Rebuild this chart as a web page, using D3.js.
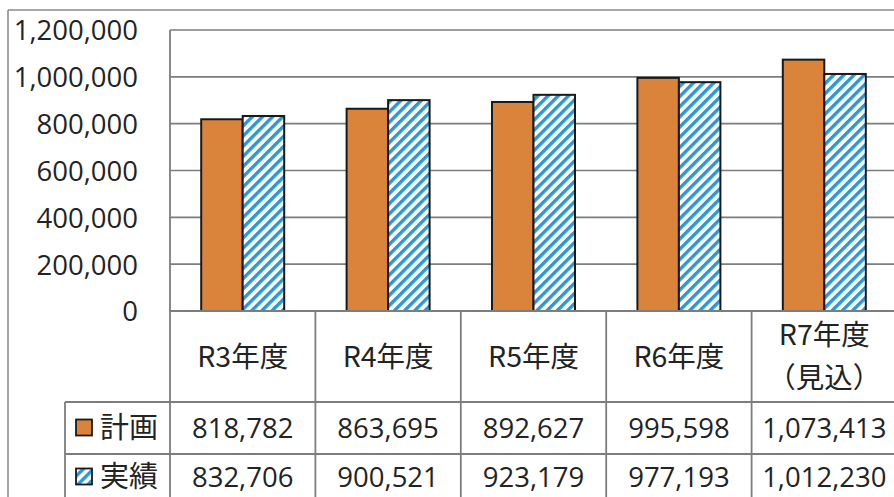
<!DOCTYPE html>
<html><head><meta charset="utf-8">
<script src="https://cdn.jsdelivr.net/npm/d3@7"></script>
<style>
html,body{margin:0;padding:0;background:#fff;}
svg{display:block;}
</style></head>
<body>
<script>
// ---- data ----
const categories = ["R3年度","R4年度","R5年度","R6年度","R7年度\n（見込）"];
const seriesNames = ["計画","実績"];
const planValues = [818782, 863695, 892627, 995598, 1073413];
const actualValues = [832706, 900521, 923179, 977193, 1012230];
const yTicks = [0, 200000, 400000, 600000, 800000, 1000000, 1200000];

const W = 894, H = 497;
const svg = d3.select("body").append("svg").attr("width", W).attr("height", H);

const defs = svg.append("defs");
const pat = defs.append("pattern").attr("id","hatch").attr("patternUnits","userSpaceOnUse")
  .attr("width",7.2).attr("height",7.2).attr("patternTransform","rotate(45)");
pat.append("rect").attr("width",7.2).attr("height",7.2).attr("fill","#fff");
pat.append("rect").attr("x",0).attr("width",3.4).attr("height",7.2).attr("fill","#2b98d4");

const colors = {"計画":"#d9843a","実績":"url(#hatch)"};
const gridColor = "#7d7d7d";
const textColor = "#232323";
const numFont = "'Open Sans', 'Noto Sans', sans-serif";
const jpFont = "'Noto Sans CJK JP', sans-serif";
const numSize = 27.5;

// layout
const plotLeft = 170, plotRight = 897, plotTop = 30, plotBottom = 311;
const headBottom = 402, row1Bottom = 454, row2Bottom = 500, legendLeft = 65;

const x = d3.scaleBand().domain(categories).range([plotLeft, plotRight]).paddingInner(0).paddingOuter(0);
const barW = 41.5;
const outerPad = (x.bandwidth() / barW - 2) / 2;
const x1 = d3.scaleBand().domain(seriesNames).range([0, x.bandwidth()]).paddingInner(0).paddingOuter(outerPad);
const y = d3.scaleLinear().domain([0, 1200000]).range([plotBottom, plotTop]);

// outer frame
svg.append("line").attr("x1",8).attr("x2",W).attr("y1",10).attr("y2",10).attr("stroke","#888").attr("stroke-width",1.5);
svg.append("line").attr("x1",8).attr("x2",8).attr("y1",10).attr("y2",H).attr("stroke","#888").attr("stroke-width",1.5);

// gridlines
svg.append("g").selectAll("line").data(yTicks).join("line")
  .attr("x1", plotLeft).attr("x2", W).attr("y1", d=>y(d)).attr("y2", d=>y(d))
  .attr("stroke", gridColor).attr("stroke-width", 1.6);

// y axis labels
const yAxis = d3.axisLeft(y).tickValues(yTicks).tickFormat(d3.format(",")).tickSize(0).tickPadding(0);
const ya = svg.append("g").attr("transform", `translate(138,0)`).call(yAxis);
ya.select(".domain").remove();
ya.selectAll("text").attr("font-family", numFont).attr("font-size", numSize).attr("fill", textColor).attr("dy","0.36em");

// bars
const rows = categories.map((c,i)=>({cat:c, vals:[{s:"計画",v:planValues[i]},{s:"実績",v:actualValues[i]}]}));
const g = svg.append("g");
rows.forEach(r=>{
  g.selectAll(null).data(r.vals).join("rect")
    .attr("x", d=> x(r.cat) + x1(d.s))
    .attr("width", x1.bandwidth())
    .attr("y", d=> y(d.v))
    .attr("height", d=> y(0) - y(d.v))
    .attr("fill", d=> colors[d.s])
    .attr("stroke", "#1a1a1a").attr("stroke-width", 2);
});

// table lines
const tl = svg.append("g").attr("stroke", gridColor).attr("stroke-width", 1.8);
tl.append("line").attr("x1",plotLeft).attr("x2",W).attr("y1",plotBottom).attr("y2",plotBottom);
tl.append("line").attr("x1",legendLeft).attr("x2",W).attr("y1",headBottom).attr("y2",headBottom);
tl.append("line").attr("x1",legendLeft).attr("x2",W).attr("y1",row1Bottom).attr("y2",row1Bottom);
tl.append("line").attr("x1",legendLeft).attr("x2",legendLeft).attr("y1",headBottom).attr("y2",H);
// plot left border
tl.append("line").attr("x1",plotLeft).attr("x2",plotLeft).attr("y1",plotTop).attr("y2",H);
tl.selectAll(null).data(categories.slice(1)).join("line")
  .attr("x1", d=>x(d)).attr("x2", d=>x(d)).attr("y1", plotBottom).attr("y2", H);

// category headers
categories.forEach(c=>{
  const lines = c.split("\n");
  const cx = x(c) + x.bandwidth()/2;
  const cy = (plotBottom + headBottom)/2;
  const lh = 43;
  lines.forEach((t,i)=>{
    svg.append("text").attr("x", cx).attr("y", cy + (i - (lines.length-1)/2)*lh)
      .attr("text-anchor","middle").attr("dy","0.36em")
      .attr("font-family", jpFont).attr("font-size", 28.5).attr("fill", textColor)
      .text(t);
  });
});

// values rows
const rowCenters = [(headBottom+row1Bottom)/2, (row1Bottom+row2Bottom)/2];
[planValues, actualValues].forEach((vals, ri)=>{
  svg.append("g").selectAll("text").data(vals).join("text")
    .attr("x", (d,i)=> x(categories[i]) + x.bandwidth()/2)
    .attr("y", rowCenters[ri]).attr("dy","0.36em")
    .attr("text-anchor","middle")
    .attr("font-family", numFont).attr("font-size", numSize).attr("fill", textColor)
    .text(d=>d3.format(",")(d));
});

// legend cells
seriesNames.forEach((s, ri)=>{
  const cy = rowCenters[ri];
  svg.append("rect").attr("x", 76).attr("y", cy - 8.5).attr("width", 16).attr("height", 16)
    .attr("fill", colors[s]).attr("stroke", "#1a1a1a").attr("stroke-width", 1.8);
  svg.append("text").attr("x", 100).attr("y", cy).attr("dy","0.36em")
    .attr("font-family", jpFont).attr("font-size", 29).attr("fill", textColor)
    .text(s);
});
</script>
</body></html>
